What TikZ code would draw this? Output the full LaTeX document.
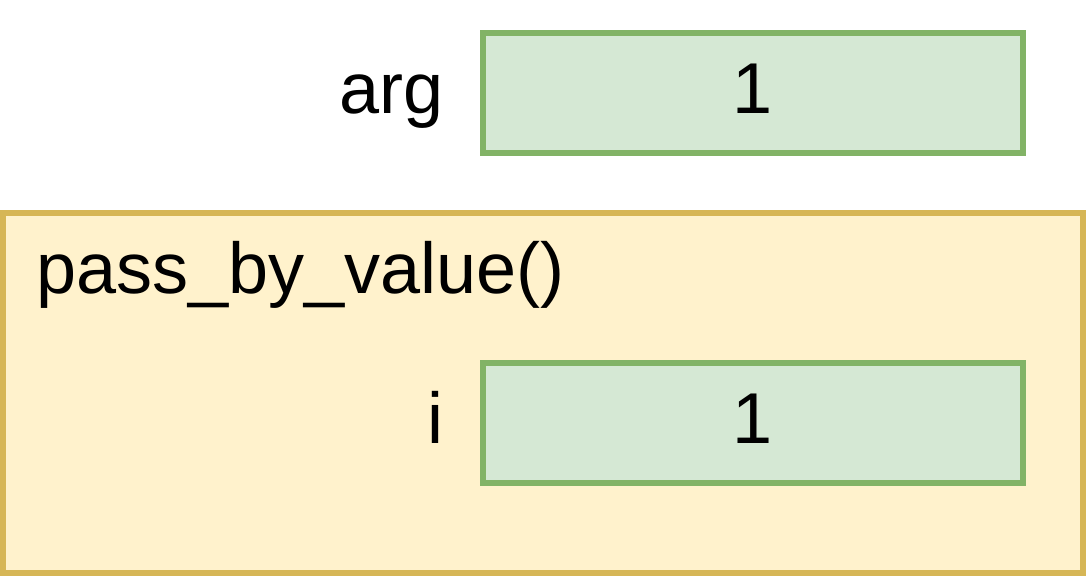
\documentclass[tikz,border=0pt]{standalone}
\usepackage{fontspec}
\setmainfont{Liberation Sans}
\usetikzlibrary{positioning}
\definecolor{cellfill}{HTML}{D5E8D4}
\definecolor{cellline}{HTML}{82B366}
\definecolor{framefill}{HTML}{FFF2CC}
\definecolor{frameline}{HTML}{D6B656}
\tikzset{
  every node/.style={font=\fontsize{72}{84}\selectfont,inner sep=0pt,
    text height=50pt,text depth=10pt},
}
\tikzstyle{cell}=[draw=cellline,fill=cellfill,line width=6pt,
  minimum width=540pt,minimum height=120pt]
\tikzstyle{frame}=[draw=frameline,fill=framefill,line width=6pt,
  minimum width=1080pt,minimum height=360pt]
\tikzstyle{varname}=[anchor=east]

\begin{document}
\begin{tikzpicture}[x=1pt,y=-1pt]
    \useasboundingbox (0,0) rectangle (1086,576);
    % stack frame of the function
    \node[frame] (frame) at (543,393) {};
    \node[anchor=base west] (fname) at (36,293) {pass\_by\_value()};
    % caller variable
    \node[cell] (argcell) at (753,93) {1};
    \node[varname,left=36pt of argcell] (arg) {arg};
    % parameter inside the function
    \node[cell] (icell) at (753,423) {1};
    \node[varname,left=36pt of icell] (i) {i};
\end{tikzpicture}
\end{document}
